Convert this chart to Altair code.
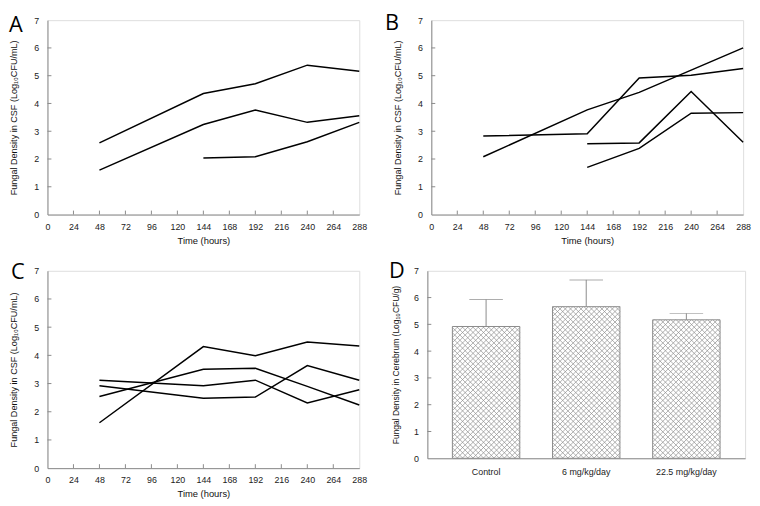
import altair as alt
import pandas as pd

HOURS = [0, 24, 48, 72, 96, 120, 144, 168, 192, 216, 240, 264, 288]
Y_TICKS = [0, 1, 2, 3, 4, 5, 6, 7]

# Panel A
A_series = [
    ([48, 144, 192, 240, 288], [2.58, 4.36, 4.71, 5.38, 5.16]),
    ([48, 144, 192, 240, 288], [1.60, 3.24, 3.76, 3.32, 3.56]),
    ([144, 192, 240, 288], [2.04, 2.08, 2.62, 3.32]),
]
# Panel B
B_series = [
    ([48, 144, 192, 240, 288], [2.83, 2.91, 4.92, 5.02, 5.26]),
    ([48, 144, 192, 240, 288], [2.08, 3.77, 4.40, 5.20, 6.00]),
    ([144, 192, 240, 288], [2.55, 2.58, 4.43, 2.60]),
    ([144, 192, 240, 288], [1.70, 2.38, 3.65, 3.67]),
]
# Panel C
C_series = [
    ([48, 144, 192, 240, 288], [1.61, 4.31, 3.99, 4.47, 4.33]),
    ([48, 144, 192, 240, 288], [2.54, 3.51, 3.54, 2.90, 2.24]),
    ([48, 144, 192, 240, 288], [3.12, 2.92, 3.12, 2.31, 2.78]),
    ([48, 144, 192, 240, 288], [2.92, 2.48, 2.52, 3.64, 3.12]),
]
# Panel D
D_groups = ["Control", "6 mg/kg/day", "22.5 mg/kg/day"]
D_means = [4.92, 5.66, 5.17]
D_errors = [1.01, 1.00, 0.24]

GRAY = "#8a8a8a"
FONT = "Liberation Sans"
TITLE_CSF = "Fungal Density in CSF (Log\u2081\u2080CFU/mL)"
TITLE_CER = "Fungal Density in Cerebrum (Log\u2081\u2080CFU/g)"


def y_axis(title, tpad, tsize):
    return alt.Axis(values=Y_TICKS, title=title, ticks=False, tickSize=0, grid=False,
                    domainColor=GRAY, labelPadding=9, labelFontSize=9, labelFlush=False,
                    labelColor="#222", titleFontSize=tsize, titleFontWeight="normal",
                    titlePadding=tpad, titleColor="#111", labelFont=FONT, titleFont=FONT)


def letter_layer(letter, lx, ly):
    return alt.Chart(pd.DataFrame({"l": [letter]})).mark_text(
        font="Open Sans", fontSize=22, align="left", baseline="alphabetic", color="black"
    ).encode(x=alt.value(lx), y=alt.value(ly), text="l:N")


def line_panel(series, letter, w, h, lx, ly):
    rows = []
    for i, (ts, vs) in enumerate(series):
        for t, v in zip(ts, vs):
            rows.append({"s": i, "t": t, "v": v})
    df = pd.DataFrame(rows)
    x = alt.X("t:Q", scale=alt.Scale(domain=[0, 288], nice=False, zero=False),
              axis=alt.Axis(values=HOURS, title="Time (hours)", ticks=False, tickSize=0, grid=False,
                            domainColor=GRAY, labelPadding=8, labelFontSize=9, labelFlush=False,
                            labelOverlap=False, labelColor="#222", titleFontSize=9.5,
                            titleFontWeight="normal", titlePadding=4, titleColor="#111",
                            labelFont=FONT, titleFont=FONT))
    y = alt.Y("v:Q", scale=alt.Scale(domain=[0, 7], nice=False), axis=y_axis(TITLE_CSF, 15, 9.2))
    lines = alt.Chart(df).mark_line(color="black", strokeWidth=1.5).encode(x=x, y=y, detail="s:N")
    xt = alt.Chart(pd.DataFrame({"t": HOURS[1:-1]})).mark_rule(color=GRAY, strokeWidth=1).encode(
        x=x, y=alt.value(h), y2=alt.value(h - 4))
    yt = alt.Chart(pd.DataFrame({"v": Y_TICKS[1:-1]})).mark_rule(color=GRAY, strokeWidth=1).encode(
        y=y, x=alt.value(0), x2=alt.value(4))
    return alt.layer(lines, xt, yt, letter_layer(letter, lx, ly)).properties(width=w, height=h)


def bar_panel(w, h, lx, ly):
    p_in, p_out = 0.327, 0.25
    step = w / (len(D_groups) - p_in + 2 * p_out)
    bw = step * (1 - p_in)
    period = 5.3
    dfD = pd.DataFrame({"g": D_groups, "m": D_means,
                        "top": [m + e for m, e in zip(D_means, D_errors)]})
    yax = y_axis(TITLE_CER, 13, 8.6)
    yscale = alt.Scale(domain=[0, 7], nice=False)
    xb = alt.X("g:N", sort=D_groups, scale=alt.Scale(paddingInner=p_in, paddingOuter=p_out),
               axis=alt.Axis(title=None, ticks=False, tickSize=0, labelAngle=0, domainColor=GRAY,
                             labelPadding=9, labelFontSize=9, labelColor="#222", labelFont=FONT))
    bars = alt.Chart(dfD).mark_bar(fill="white", stroke=GRAY, strokeWidth=1).encode(
        x=xb, y=alt.Y("m:Q", scale=yscale, axis=yax))

    # cross-hatch lines clipped to each bar (derived from bar values)
    hatch = []
    for i, m in enumerate(D_means):
        x0 = step * (p_out + i)
        hp = m * h / 7.0
        c = -bw
        while c < hp:
            xa, xb2 = max(0.0, -c), min(bw, hp - c)
            if xb2 > xa:
                hatch.append({"hx": x0 + xa, "hx2": x0 + xb2,
                              "m": (xa + c) * 7 / h, "m2": (xb2 + c) * 7 / h})
            c += period
        c = 0.0
        while c < hp + bw:
            xa, xb2 = max(0.0, c - hp), min(bw, c)
            if xb2 > xa:
                hatch.append({"hx": x0 + xa, "hx2": x0 + xb2,
                              "m": (c - xa) * 7 / h, "m2": (c - xb2) * 7 / h})
            c += period
    hdf = pd.DataFrame(hatch)
    hatch_layer = alt.Chart(hdf).mark_rule(color="#8c8c8c", strokeWidth=0.7).encode(
        x=alt.X("hx:Q", scale=alt.Scale(domain=[0, w], nice=False, zero=False), axis=None),
        x2="hx2:Q",
        y=alt.Y("m:Q", scale=yscale, axis=yax), y2="m2:Q")
    err = alt.Chart(dfD).mark_rule(color=GRAY, strokeWidth=1).encode(
        x=xb, y=alt.Y("m:Q", scale=yscale, axis=yax), y2="top:Q")
    cap = alt.Chart(dfD).mark_tick(color=GRAY, size=34, thickness=1, orient="horizontal").encode(
        x=xb, y=alt.Y("top:Q", scale=yscale, axis=yax))
    yt = alt.Chart(pd.DataFrame({"m": Y_TICKS[1:-1]})).mark_rule(color=GRAY, strokeWidth=1).encode(
        y=alt.Y("m:Q", scale=yscale, axis=yax), x=alt.value(0), x2=alt.value(4))
    base = alt.layer(bars, err, cap, yt, letter_layer("D", lx, ly))
    return alt.layer(base, hatch_layer).resolve_scale(x="independent").properties(width=w, height=h)


A = line_panel(A_series, "A", 316, 197, -39, 12)
B = line_panel(B_series, "B", 316, 197, -47, 10)
C = line_panel(C_series, "C", 316, 200, -37, 8)
D = bar_panel(322, 190, -39, 7)

chart = alt.vconcat(
    alt.hconcat(A, B, spacing=16),
    alt.hconcat(C, D, spacing=20),
    spacing=14,
).properties(padding=0).configure_view(stroke=GRAY, strokeWidth=1).configure(font=FONT)

chart.save("out.html", embed_options={"renderer": "svg", "actions": False})
